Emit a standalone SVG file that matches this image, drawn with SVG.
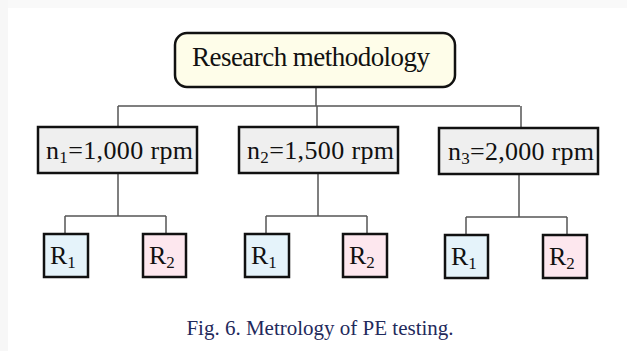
<svg xmlns="http://www.w3.org/2000/svg" width="627" height="351" viewBox="0 0 627 351">
<style>
text{font-family:"Liberation Serif","Times New Roman",serif;fill:#111}
.box{stroke:#111;stroke-width:2.5}
.mid{fill:#efefef}
.r1{fill:#e5f3fa}
.r2{fill:#fde7ee}
.lbl{font-size:26px}
.sub{font-size:17px}
.conn{fill:none;stroke:#555;stroke-width:1.5}
</style>
<rect width="627" height="351" fill="#fff"/>
<rect x="0" y="0" width="627" height="8" fill="#f9f9f9"/>
<rect x="0" y="0" width="8" height="351" fill="#f7f7f7"/>
<g id="connectors" class="conn">
<path d="M316 87V106M118 106H520M118 106V127M317 106V127M521 106V128"/>
<path d="M118 173V216M65 216H166M65 216V234M166 216V234"/>
<path d="M318 173V216M266 216H367M266 216V234M367 216V234"/>
<path d="M519 174V217M466 217H567M466 217V235M567 217V235"/>
</g>
<g id="root">
<rect class="box" x="175" y="33" width="280" height="54" rx="12" fill="#fefde9"/>
<text x="311" y="66" text-anchor="middle" font-size="27" textLength="238">Research methodology</text>
</g>
<g id="n1">
<rect class="box mid" x="38" y="127" width="159" height="46"/>
<text class="lbl" x="46" y="159" textLength="147">n<tspan class="sub" dy="4">1</tspan><tspan dy="-4">=1,000 rpm</tspan></text>
</g>
<g id="n2">
<rect class="box mid" x="239" y="127" width="159" height="46"/>
<text class="lbl" x="247" y="159" textLength="147">n<tspan class="sub" dy="4">2</tspan><tspan dy="-4">=1,500 rpm</tspan></text>
</g>
<g id="n3">
<rect class="box mid" x="439" y="128" width="159" height="46"/>
<text class="lbl" x="448" y="160" textLength="146">n<tspan class="sub" dy="4">3</tspan><tspan dy="-4">=2,000 rpm</tspan></text>
</g>
<g id="n1r1"><rect class="box r1" x="44" y="234" width="44" height="43"/><text class="lbl" x="50" y="264">R<tspan class="sub" dy="4">1</tspan></text></g>
<g id="n1r2"><rect class="box r2" x="143" y="234" width="43" height="43"/><text class="lbl" x="149" y="264">R<tspan class="sub" dy="4">2</tspan></text></g>
<g id="n2r1"><rect class="box r1" x="245" y="234" width="44" height="43"/><text class="lbl" x="251" y="264">R<tspan class="sub" dy="4">1</tspan></text></g>
<g id="n2r2"><rect class="box r2" x="343" y="234" width="44" height="43"/><text class="lbl" x="349" y="264">R<tspan class="sub" dy="4">2</tspan></text></g>
<g id="n3r1"><rect class="box r1" x="445" y="235" width="43" height="43"/><text class="lbl" x="451" y="265">R<tspan class="sub" dy="4">1</tspan></text></g>
<g id="n3r2"><rect class="box r2" x="543" y="235" width="44" height="43"/><text class="lbl" x="549" y="265">R<tspan class="sub" dy="4">2</tspan></text></g>
<text x="320" y="335" text-anchor="middle" font-size="21" style="fill:#1f2a5c">Fig. 6. Metrology of PE testing.</text>
</svg>
